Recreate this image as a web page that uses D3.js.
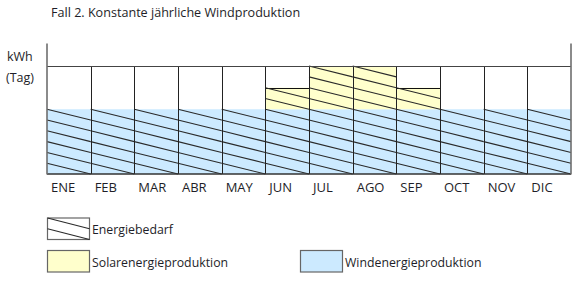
<!DOCTYPE html>
<meta charset="utf-8">
<script src="https://d3js.org/d3.v7.min.js"></script>
<style>
  body { margin: 0; background: #fff; }
  text { font-family: "Open Sans", sans-serif; fill: #1e1e28; }
</style>
<div id="chart"></div>
<script>
// data (kWh per day, in units of the grid)
var months = ["ENE", "FEB", "MAR", "ABR", "MAY", "JUN", "JUL", "AGO", "SEP", "OCT", "NOV", "DIC"];
var wind   = [3, 3, 3, 3, 3, 3, 3, 3, 3, 3, 3, 3];
var solar  = [0, 0, 0, 0, 0, 1, 2, 2, 1, 0, 0, 0];
var demand = [3, 3, 3, 3, 3, 4, 5, 5, 4, 3, 3, 3];
var gridTop = 5;   // top line of the month grid
var yMax = 6;      // top of the axis
var hatchPerUnit = 2;

var width = 588, height = 285;

var svg = d3.select("#chart").append("svg")
    .attr("width", width)
    .attr("height", height);

var x = d3.scaleBand().domain(months).range([47, 571]).padding(0);
var y = d3.scaleLinear().domain([0, yMax]).range([174, 44.5]);

// title + unit
svg.append("text").attr("x", 51).attr("y", 17).style("font-size", "12.6px")
    .text("Fall 2. Konstante jährliche Windproduktion");
svg.append("text").attr("x", 7).attr("y", 61).style("font-size", "12.5px").text("kWh");
svg.append("text").attr("x", 6).attr("y", 82).style("font-size", "12.5px").text("(Tag)");

// wind bars
svg.selectAll(".wind").data(months).enter().append("rect")
    .attr("x", function(d) { return x(d); })
    .attr("width", x.bandwidth())
    .attr("y", function(d, i) { return y(wind[i]); })
    .attr("height", function(d, i) { return y(0) - y(wind[i]); })
    .attr("fill", "#cceaff");

// solar bars stacked on wind
var solarMonths = months.filter(function(d, i) { return solar[i] > 0; });
svg.selectAll(".solar").data(solarMonths).enter().append("rect")
    .attr("x", function(d) { return x(d); })
    .attr("width", x.bandwidth())
    .attr("y", function(d) { var i = months.indexOf(d); return y(wind[i] + solar[i]); })
    .attr("height", function(d) { var i = months.indexOf(d); return y(wind[i]) - y(wind[i] + solar[i]); })
    .attr("fill", "#ffffcc");

// top edge of the solar bars
svg.selectAll(".solarTop").data(solarMonths).enter().append("line")
    .attr("x1", function(d) { return x(d); })
    .attr("x2", function(d) { return x(d) + x.bandwidth(); })
    .attr("y1", function(d) { var i = months.indexOf(d); return Math.round(y(wind[i] + solar[i])) + 0.5; })
    .attr("y2", function(d) { var i = months.indexOf(d); return Math.round(y(wind[i] + solar[i])) + 0.5; })
    .attr("stroke", "#111").attr("stroke-width", 1);

// demand hatching: in each month, lines that drop one step across the column
var hatch = [];
months.forEach(function(m, i) {
    var n = demand[i] * hatchPerUnit;
    for (var k = 0; k < n; k++) {
        hatch.push({
            x1: x(m), x2: x(m) + x.bandwidth(),
            y1: y(demand[i] - k / hatchPerUnit),
            y2: y(demand[i] - (k + 1) / hatchPerUnit)
        });
    }
});
svg.selectAll(".hatch").data(hatch).enter().append("line")
    .attr("x1", function(d) { return d.x1; })
    .attr("x2", function(d) { return d.x2; })
    .attr("y1", function(d) { return d.y1; })
    .attr("y2", function(d) { return d.y2; })
    .attr("stroke", "#2a2a2a").attr("stroke-width", 1.1);

// column separators
var bounds = months.slice(1).map(function(m) { return x(m); });
svg.selectAll(".sep").data(bounds).enter().append("line")
    .attr("x1", function(d) { return Math.round(d) + 0.5; })
    .attr("x2", function(d) { return Math.round(d) + 0.5; })
    .attr("y1", y(gridTop)).attr("y2", y(0))
    .attr("stroke", "#222").attr("stroke-width", 1);

// grid top line, baseline
svg.append("line").attr("x1", x.range()[0]).attr("x2", x.range()[1])
    .attr("y1", Math.round(y(gridTop)) + 0.5).attr("y2", Math.round(y(gridTop)) + 0.5)
    .attr("stroke", "#444").attr("stroke-width", 1);
svg.append("line").attr("x1", x.range()[0]).attr("x2", x.range()[1])
    .attr("y1", y(0)).attr("y2", y(0))
    .attr("stroke", "#333").attr("stroke-width", 1.3);

// left and right frame lines
[x.range()[0], x.range()[1]].forEach(function(px) {
    svg.append("line").attr("x1", px).attr("x2", px)
        .attr("y1", y(yMax) - 1).attr("y2", y(0) + 0.5)
        .attr("stroke", "#6e6e6e").attr("stroke-width", 1.6);
});

// month labels
svg.selectAll(".mlab").data(months).enter().append("text")
    .attr("x", function(d) { return x(d) + 4; })
    .attr("y", 191.5)
    .style("font-size", "13px")
    .text(function(d) { return d; });

// legend
var lg = svg.append("g");
function legendBox(bx, by, fill) {
    return lg.append("rect").attr("x", bx).attr("y", by).attr("width", 42).attr("height", 21.5)
        .attr("fill", fill).attr("stroke", "#666").attr("stroke-width", 1.2);
}
legendBox(47.5, 218, "#fff");
[0, 1].forEach(function(k) {
    lg.append("line").attr("x1", 47.5).attr("x2", 89.5)
        .attr("y1", 218 + k * 10.75).attr("y2", 218 + (k + 1) * 10.75)
        .attr("stroke", "#2a2a2a").attr("stroke-width", 1.1);
});
lg.append("text").attr("x", 92).attr("y", 234).style("font-size", "12.3px").text("Energiebedarf");
legendBox(47.5, 250.5, "#ffffcc");
lg.append("text").attr("x", 92).attr("y", 266.5).style("font-size", "12.3px").text("Solarenergieproduktion");
legendBox(300.5, 250.5, "#cceaff");
lg.append("text").attr("x", 345).attr("y", 266.5).style("font-size", "12.3px").text("Windenergieproduktion");
</script>
